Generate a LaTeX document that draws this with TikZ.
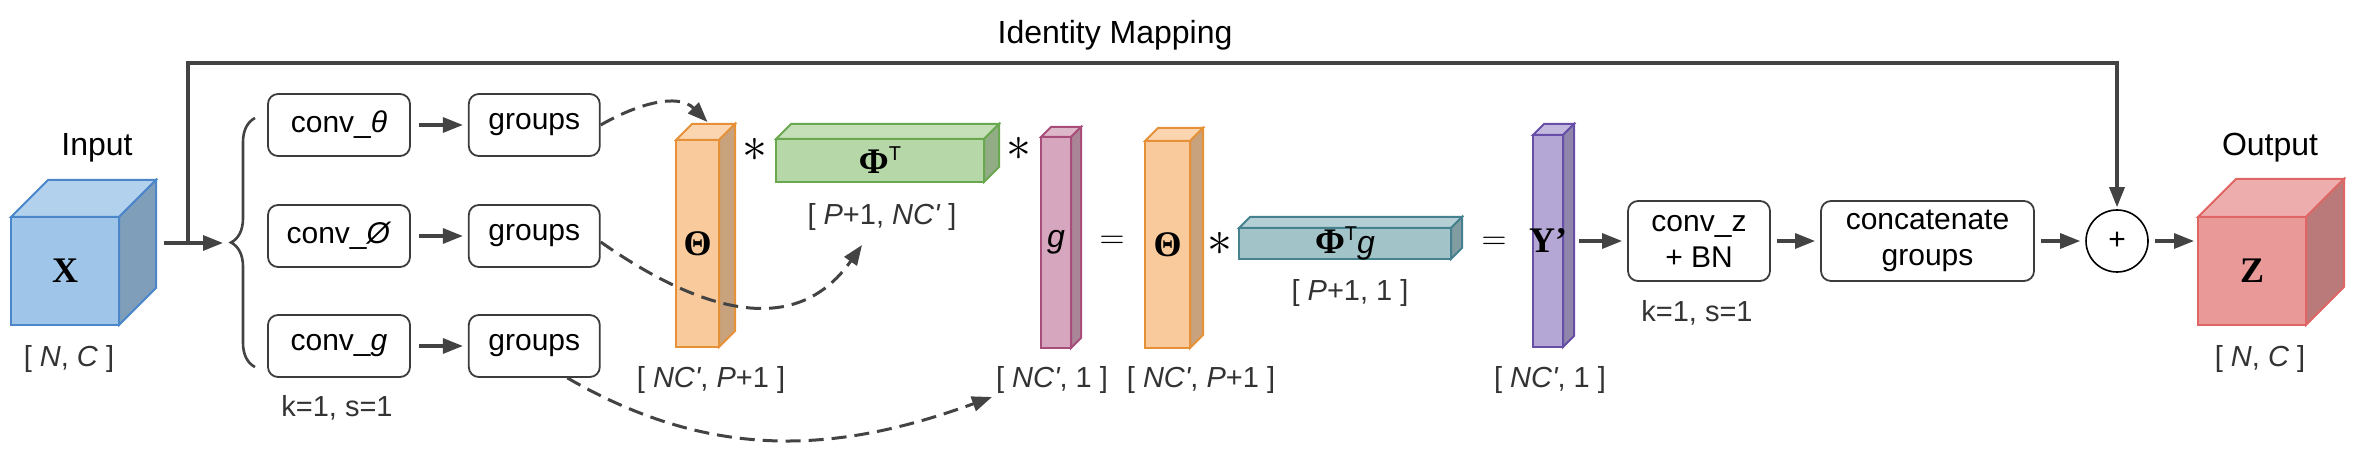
\documentclass[tikz,border=0pt]{standalone}
\usepackage{fontspec}
\setmainfont{Liberation Sans}
\newfontfamily\serifgr{Liberation Serif}
\usepackage{xcolor}
\usepackage{tikz}
\usetikzlibrary{positioning}
\usetikzlibrary{arrows.meta}
\usetikzlibrary{decorations.pathreplacing}

\definecolor{lineg}{HTML}{434343}
\definecolor{boxg}{HTML}{3C3C3C}
\definecolor{labg}{HTML}{333333}
\definecolor{fblue}{HTML}{9FC5E8}   \definecolor{sblue}{HTML}{4A86C8}
\definecolor{forange}{HTML}{F9CB9C} \definecolor{sorange}{HTML}{E69138}
\definecolor{fgreen}{HTML}{B6D7A8}  \definecolor{sgreen}{HTML}{6AA84F}
\definecolor{fpink}{HTML}{D5A6BD}   \definecolor{spink}{HTML}{A64D79}
\definecolor{fteal}{HTML}{A2C4C9}   \definecolor{steal}{HTML}{45818E}
\definecolor{fpurple}{HTML}{B4A7D6} \definecolor{spurple}{HTML}{674EA7}
\definecolor{fred}{HTML}{EA9999}    \definecolor{sred}{HTML}{E06666}

\tikzset{face/.style={rectangle, inner sep=0pt, outer sep=0pt, line width=1pt},
    barlab/.style={font=\fontsize{18}{20}\selectfont}}

% name, x, y, width, height, depth, colour, label
\newcommand{\blockcube}[8]{%
  \node[face, minimum width={#4*0.5pt}, minimum height={#5*0.5pt}, fill=f#7, draw=s#7] (#1) at (#2,#3) {};
  \draw[face, draw=s#7, fill=f#7!80!white] (#1.north west) -- ++(#6,-#6) -- ++(#4,0) -- (#1.north east) -- cycle;
  \draw[face, draw=s#7, fill=f#7!80!black] (#1.north east) -- ++(#6,-#6) -- ++(0,#5) -- (#1.south east) -- cycle;
  \node[barlab] (#1-t) at (#1) {#8};
}
\newcommand{\phit}{{\serifgr\bfseries Φ}\raisebox{6.5pt}{\fontsize{10}{10}\selectfont T}}

\begin{document}
\begin{tikzpicture}[x=0.5pt, y=-0.5pt,
    edge/.style={-{Triangle[length=10pt,width=7.5pt]}, line width=1.6pt, draw=lineg, shorten >=2.5pt, shorten <=3pt},
    dashedge/.style={-{Triangle[length=10pt,width=7.5pt]}, line width=1.5pt, draw=lineg, dash pattern=on 7.5pt off 4pt},
    box/.style={draw=boxg, rounded corners=5pt, line width=0.9pt, minimum width=71pt, minimum height=31pt, inner sep=0pt, align=center, font=\fontsize{15}{18}\selectfont},
    lab/.style={text=labg, font=\fontsize{14.5}{17}\selectfont},
    title/.style={font=\fontsize{16}{19}\selectfont},
    op/.style={font=\fontsize{25}{25}\selectfont}]
\useasboundingbox (0,0) rectangle (2370,470);

\blockcube{xc}{65}{271}{108}{108}{37}{blue}{\serifgr\bfseries X}
\blockcube{zc}{2252}{271}{108}{108}{38}{red}{\serifgr\bfseries Z}
\node[title] (inlab) at (97,148) {Input};
\node[title] (outlab) at (2270,148) {Output};
\node[lab] (xdim) at (69,359) {[ \textit{N}, \textit{C} ]};
\node[lab] (zdim) at (2260,359) {[ \textit{N}, \textit{C} ]};

\foreach \n/\y/\t in {cth/125/{conv\_\textit{θ}}, cph/236/{conv\_\textit{Ø}}, cg/346/{conv\_\textit{g}}} {
    \node[box] (\n) at (339,\y) {\t};
}
\foreach \i/\j in {cth/gth, cph/gph, cg/gg} {
    \node[box, minimum width=65.5pt, right=28.5pt of \i] (\j) {groups};
    \draw[edge, shorten <=4pt] (\i) -- (\j);
}
\node[lab] (k1) at (337,408) {k=1, s=1};

\coordinate (brtip) at (231,243);
\coordinate (brbot) at (255,367);
\coordinate (brtop) at (255,118);
\draw[decorate, decoration={brace, amplitude=12pt}, line width=1.3pt, draw=lineg] (brbot) -- (brtop);
\draw[edge, shorten <=0pt, shorten >=4pt] ([xshift=22.5pt,yshift=14pt]xc.east) -- (brtip);

\blockcube{th1}{697.5}{243.5}{43}{207}{16}{orange}{\serifgr\bfseries Θ}
\blockcube{gr}{880}{160.5}{208}{43}{15}{green}{\phit}
\blockcube{pk}{1056}{242.5}{30}{211}{10}{pink}{\fontsize{16}{18}\selectfont\textit{g}}
\blockcube{th2}{1167.5}{244.5}{45}{207}{13}{orange}{\serifgr\bfseries Θ}
\blockcube{tl}{1345}{243.5}{212}{31}{11}{teal}{\phit\fontsize{16}{18}\selectfont\textit{g}}
\blockcube{yp}{1548}{241}{30}{212}{11}{purple}{\serifgr\bfseries Y’}

\node[op] (m1) at (755,150) {$\ast$};
\node[op] (m2) at (1019,149) {$\ast$};
\node[op] (m3) at (1220,244) {$\ast$};
\node[font=\fontsize{17.5}{17.5}\selectfont] (e1) at (1112,242) {$=$};
\node[font=\fontsize{17.5}{17.5}\selectfont] (e2) at (1494,243) {$=$};

\node[lab] (d1) at (711,380) {[ \textit{NC\textquotesingle}, \textit{P}+1 ]};
\node[lab] (d2) at (882,217) {[ \textit{P}+1, \textit{NC\textquotesingle} ]};
\node[lab] (d3) at (1052,380) {[ \textit{NC\textquotesingle}, 1 ]};
\node[lab] (d4) at (1201,380) {[ \textit{NC\textquotesingle}, \textit{P}+1 ]};
\node[lab] (d5) at (1350,293) {[ \textit{P}+1, 1 ]};
\node[lab] (d6) at (1550,380) {[ \textit{NC\textquotesingle}, 1 ]};

\draw[dashedge] (gth.east) to[out=30,in=135] ([xshift=5pt,yshift=9pt]th1.north);
\draw[dashedge] ([yshift=-3pt]gph.east) to[out=-35,in=-125,looseness=1.15] ([xshift=-9pt,yshift=-31.5pt]gr.south);
\draw[dashedge] ([xshift=16.5pt]gg.south) to[out=-30,in=-160] ([xshift=-32pt,yshift=-24.5pt]pk.south);

\node[box, minimum height=40pt] (cz) at (1699,241) {conv\_z\\+ BN};
\node[box, minimum width=106.5pt, minimum height=40pt] (cat) at (1927.5,241) {concatenate\\groups};
\node[draw=black, circle, minimum size=31pt, inner sep=0pt, line width=0.8pt, font=\fontsize{15}{18}\selectfont] (add) at (2117,241) {+};
\node[lab] (k2) at (1697,313) {k=1, s=1};

\draw[edge, shorten <=8pt] (yp.east |- cz.west) -- (cz);
\draw[edge] (cz) -- (cat);
\draw[edge] (cat) -- (add);
\draw[edge, shorten >=2pt] (add) -- (zc.west |- add.east);

\coordinate (jn) at (188,243);
\coordinate (idtop) at (188,63);
\draw[edge, shorten <=0pt, shorten >=1pt] (jn) -- (idtop) -| (add);
\node[title] (idm) at (1115,35) {Identity Mapping};
\end{tikzpicture}
\end{document}
